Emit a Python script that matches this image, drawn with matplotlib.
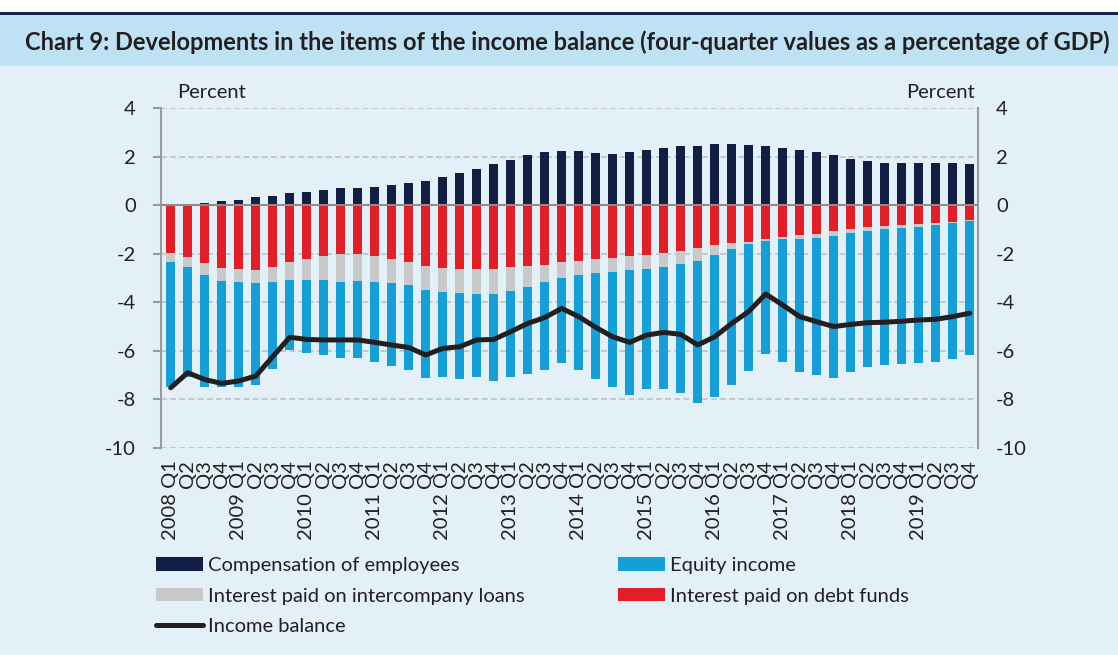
import matplotlib.pyplot as plt
import numpy as np

plt.rcParams['font.family'] = ['Lato', 'DejaVu Sans']
plt.rcParams['axes.unicode_minus'] = False

# quarters 2008 Q1 .. 2019 Q4
years = list(range(2008, 2020))
quarters = ['Q1', 'Q2', 'Q3', 'Q4']
labels = []
for y in years:
    for q in quarters:
        labels.append('{} {}'.format(y, q) if q == 'Q1' else q)

# percent of GDP
compensation = [0.00, 0.00, 0.08, 0.16, 0.23, 0.33, 0.38, 0.48, 0.55, 0.63, 0.70, 0.71,
                0.76, 0.82, 0.91, 1.00, 1.15, 1.31, 1.48, 1.69, 1.86, 2.05, 2.19, 2.23,
                2.21, 2.16, 2.12, 2.20, 2.27, 2.35, 2.43, 2.45, 2.50, 2.52, 2.46, 2.42,
                2.34, 2.27, 2.20, 2.06, 1.92, 1.83, 1.73, 1.73, 1.73, 1.73, 1.73, 1.70]
debt_funds = [-1.95, -2.12, -2.39, -2.58, -2.63, -2.65, -2.54, -2.35, -2.21, -2.08, -2.01, -2.01,
              -2.08, -2.20, -2.34, -2.49, -2.58, -2.64, -2.63, -2.63, -2.56, -2.50, -2.45, -2.36,
              -2.30, -2.21, -2.16, -2.10, -2.05, -1.98, -1.88, -1.77, -1.66, -1.57, -1.50, -1.40,
              -1.31, -1.24, -1.18, -1.07, -0.98, -0.89, -0.85, -0.81, -0.77, -0.73, -0.69, -0.63]
intercompany = [-0.39, -0.44, -0.47, -0.54, -0.55, -0.57, -0.62, -0.73, -0.88, -1.00, -1.14, -1.10,
                -1.07, -1.02, -0.96, -0.99, -0.99, -0.99, -1.03, -1.03, -0.96, -0.85, -0.73, -0.62,
                -0.57, -0.58, -0.58, -0.58, -0.58, -0.56, -0.55, -0.53, -0.40, -0.24, -0.09, -0.06,
                -0.09, -0.16, -0.17, -0.19, -0.17, -0.17, -0.14, -0.12, -0.11, -0.07, -0.04, -0.04]
equity = [-5.14, -4.50, -4.64, -4.36, -4.30, -4.18, -3.58, -2.89, -3.01, -3.11, -3.15, -3.20,
          -3.31, -3.42, -3.49, -3.63, -3.50, -3.53, -3.43, -3.58, -3.55, -3.59, -3.61, -3.51,
          -3.92, -4.36, -4.74, -5.13, -4.96, -5.03, -5.31, -5.86, -5.84, -5.60, -5.24, -4.67,
          -5.05, -5.46, -5.66, -5.85, -5.71, -5.62, -5.61, -5.60, -5.61, -5.66, -5.61, -5.52]
income_balance = [-7.52, -6.90, -7.18, -7.34, -7.24, -7.04, -6.24, -5.44, -5.53, -5.55, -5.55, -5.55,
                  -5.65, -5.76, -5.86, -6.17, -5.90, -5.83, -5.55, -5.53, -5.21, -4.87, -4.63, -4.25,
                  -4.59, -5.03, -5.42, -5.65, -5.35, -5.24, -5.32, -5.76, -5.42, -4.87, -4.38, -3.66,
                  -4.11, -4.59, -4.80, -5.00, -4.91, -4.84, -4.82, -4.78, -4.73, -4.70, -4.59, -4.45]

c_comp = '#121f45'
c_equity = '#149fd9'
c_inter = '#c8c9cb'
c_debt = '#e31e26'
c_line = '#231f20'
bg = '#e3f0f7'
band = '#bee2f3'
text_c = '#231f20'
fs = 14.5

W, H = 1118, 655
fig = plt.figure(figsize=[W / 100, H / 100], dpi=100, facecolor=bg)

# title band
fig.patches.append(plt.Rectangle((0, (H - 66) / H), 1, 53 / H, transform=fig.transFigure,
                                 facecolor=band, edgecolor='none', zorder=0))
fig.patches.append(plt.Rectangle((0, (H - 12) / H), 1, 12 / H, transform=fig.transFigure,
                                 facecolor='white', edgecolor='none', zorder=0))
fig.patches.append(plt.Rectangle((0, (H - 15) / H), 1, 3 / H, transform=fig.transFigure,
                                 facecolor='#1a2352', edgecolor='none', zorder=1))
fig.text(567 / W, (H - 42) / H, 'Chart 9: Developments in the items of the income balance '
         '(four-quarter values as a percentage of GDP)', ha='center', va='center',
         fontsize=17, fontweight='bold', color=text_c)

ax = fig.add_axes([161 / W, (H - 448) / H, (978 - 161) / W, (448 - 108) / H])
ax.set_facecolor(bg)

x = np.arange(len(labels))
bw = 0.55
debt = np.array(debt_funds)
inter = np.array(intercompany)
eq = np.array(equity)
ax.bar(x, compensation, bw, color=c_comp, zorder=3, label='Compensation of employees')
ax.bar(x, debt, bw, color=c_debt, zorder=3, label='Interest paid on debt funds')
ax.bar(x, inter, bw, bottom=debt, color=c_inter, zorder=3, label='Interest paid on intercompany loans')
ax.bar(x, eq, bw, bottom=debt + inter, color=c_equity, zorder=3, label='Equity income')
ax.plot(x, income_balance, color=c_line, linewidth=3.6, zorder=4, label='Income balance',
        solid_capstyle='round')

ax.set_ylim(-10, 4)
ax.set_xlim(-0.57, 47.49)
ax.set_yticks(np.arange(-10, 5, 2))
for v in np.arange(-10, 5, 2):
    if v != 0:
        ax.axhline(v, color='#c0c0c0', linestyle=(0, (3.5, 2)), linewidth=1.2, zorder=1)
ax.axhline(0, color='#8c8c8c', linewidth=1.5, zorder=5)

for s in ['top', 'bottom']:
    ax.spines[s].set_visible(False)
for s in ['left', 'right']:
    ax.spines[s].set_color('#9a9a9a')
    ax.spines[s].set_linewidth(1.5)

ax.tick_params(axis='y', which='both', left=True, right=True, labelleft=True, labelright=False,
               length=6, width=1.5, color='#9a9a9a', labelsize=fs, labelcolor=text_c, pad=12)
ax2 = ax.twinx()
ax2.set_ylim(-10, 4)
ax2.set_yticks(np.arange(-10, 5, 2))
for s in ['top', 'bottom', 'left', 'right']:
    ax2.spines[s].set_visible(False)
ax2.tick_params(axis='y', length=0, labelsize=fs, labelcolor=text_c, pad=13)

ax.set_xticks(x)
ax.set_xticklabels(labels, rotation=90, fontsize=fs, color=text_c)
ax.tick_params(axis='x', length=0, pad=9)

fig.text(177 / W, (H - 92) / H, 'Percent', ha='left', va='center', fontsize=fs, color=text_c)
fig.text(975 / W, (H - 92) / H, 'Percent', ha='right', va='center', fontsize=fs, color=text_c)

handles, lbls = ax.get_legend_handles_labels()
order = ['Compensation of employees', 'Interest paid on intercompany loans', 'Income balance',
         'Equity income', 'Interest paid on debt funds']
hmap = dict(zip(lbls, handles))
leg = fig.legend([hmap[k] for k in order], order, ncol=2, loc='upper left',
                 bbox_to_anchor=(156 / W, (H - 557) / H), frameon=False, fontsize=fs,
                 borderpad=0, borderaxespad=0,
                 handlelength=2.35, handleheight=0.65, handletextpad=0.25, columnspacing=4.6,
                 labelspacing=0.68, labelcolor=text_c)

plt.savefig('out.png', dpi=100, facecolor=bg)
